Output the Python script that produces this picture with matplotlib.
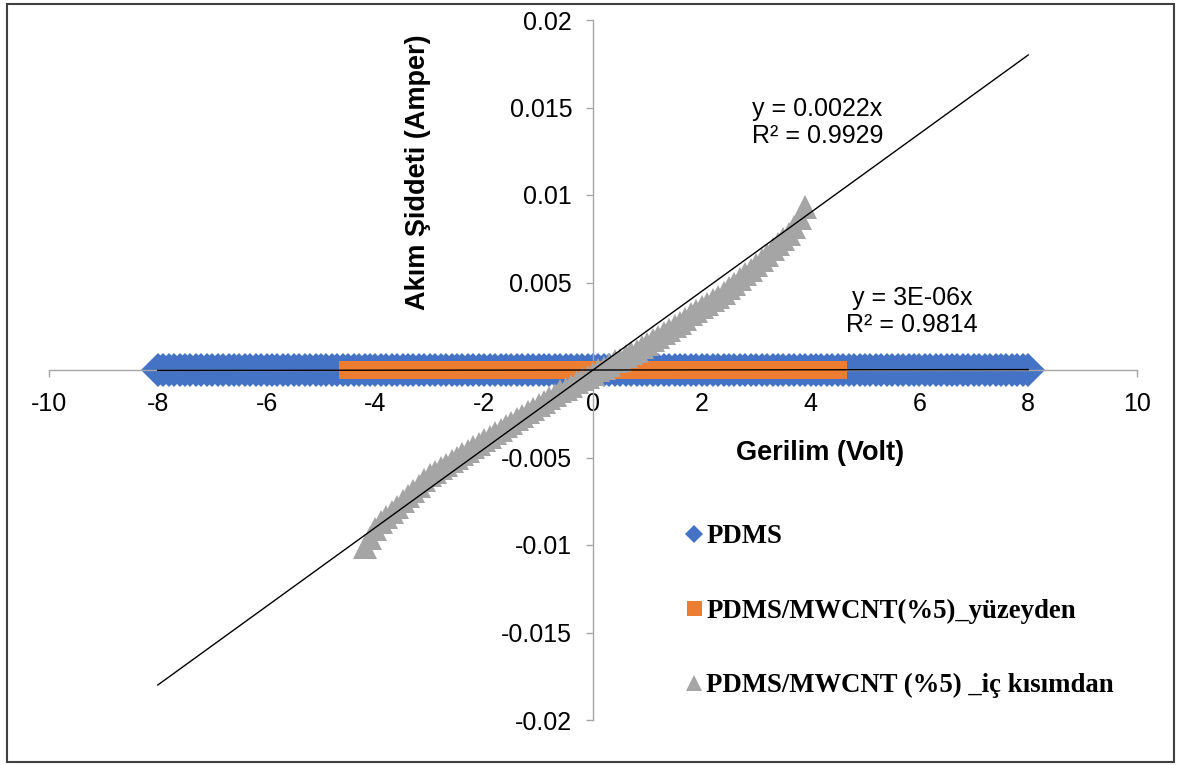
import matplotlib.pyplot as plt
from matplotlib.lines import Line2D
from matplotlib.patches import Rectangle

plt.rcParams['font.family'] = ['Liberation Sans', 'DejaVu Sans']

# --- data (voltage in V, current in A) ---
pdms_v = [
    -8.0, -7.9, -7.8, -7.7, -7.6, -7.5, -7.4, -7.3, -7.2, -7.1,
    -7.0, -6.9, -6.8, -6.7, -6.6, -6.5, -6.4, -6.3, -6.2, -6.1,
    -6.0, -5.9, -5.8, -5.7, -5.6, -5.5, -5.4, -5.3, -5.2, -5.1,
    -5.0, -4.9, -4.8, -4.7, -4.6, -4.5, -4.4, -4.3, -4.2, -4.1,
    -4.0, -3.9, -3.8, -3.7, -3.6, -3.5, -3.4, -3.3, -3.2, -3.1,
    -3.0, -2.9, -2.8, -2.7, -2.6, -2.5, -2.4, -2.3, -2.2, -2.1,
    -2.0, -1.9, -1.8, -1.7, -1.6, -1.5, -1.4, -1.3, -1.2, -1.1,
    -1.0, -0.9, -0.8, -0.7, -0.6, -0.5, -0.4, -0.3, -0.2, -0.1,
    0.0, 0.1, 0.2, 0.3, 0.4, 0.5, 0.6, 0.7, 0.8, 0.9,
    1.0, 1.1, 1.2, 1.3, 1.4, 1.5, 1.6, 1.7, 1.8, 1.9,
    2.0, 2.1, 2.2, 2.3, 2.4, 2.5, 2.6, 2.7, 2.8, 2.9,
    3.0, 3.1, 3.2, 3.3, 3.4, 3.5, 3.6, 3.7, 3.8, 3.9,
    4.0, 4.1, 4.2, 4.3, 4.4, 4.5, 4.6, 4.7, 4.8, 4.9,
    5.0, 5.1, 5.2, 5.3, 5.4, 5.5, 5.6, 5.7, 5.8, 5.9,
    6.0, 6.1, 6.2, 6.3, 6.4, 6.5, 6.6, 6.7, 6.8, 6.9,
    7.0, 7.1, 7.2, 7.3, 7.4, 7.5, 7.6, 7.7, 7.8, 7.9,
    8.0,
]
# PDMS current is too small to read at this scale (fit: 3E-06x)
pdms_i = [
    0.0, 0.0, 0.0, 0.0, 0.0, 0.0, 0.0, 0.0, 0.0, 0.0,
    0.0, 0.0, 0.0, 0.0, 0.0, 0.0, 0.0, 0.0, 0.0, 0.0,
    0.0, 0.0, 0.0, 0.0, 0.0, 0.0, 0.0, 0.0, 0.0, 0.0,
    0.0, 0.0, 0.0, 0.0, 0.0, 0.0, 0.0, 0.0, 0.0, 0.0,
    0.0, 0.0, 0.0, 0.0, 0.0, 0.0, 0.0, 0.0, 0.0, 0.0,
    0.0, 0.0, 0.0, 0.0, 0.0, 0.0, 0.0, 0.0, 0.0, 0.0,
    0.0, 0.0, 0.0, 0.0, 0.0, 0.0, 0.0, 0.0, 0.0, 0.0,
    0.0, 0.0, 0.0, 0.0, 0.0, 0.0, 0.0, 0.0, 0.0, 0.0,
    0.0, 0.0, 0.0, 0.0, 0.0, 0.0, 0.0, 0.0, 0.0, 0.0,
    0.0, 0.0, 0.0, 0.0, 0.0, 0.0, 0.0, 0.0, 0.0, 0.0,
    0.0, 0.0, 0.0, 0.0, 0.0, 0.0, 0.0, 0.0, 0.0, 0.0,
    0.0, 0.0, 0.0, 0.0, 0.0, 0.0, 0.0, 0.0, 0.0, 0.0,
    0.0, 0.0, 0.0, 0.0, 0.0, 0.0, 0.0, 0.0, 0.0, 0.0,
    0.0, 0.0, 0.0, 0.0, 0.0, 0.0, 0.0, 0.0, 0.0, 0.0,
    0.0, 0.0, 0.0, 0.0, 0.0, 0.0, 0.0, 0.0, 0.0, 0.0,
    0.0, 0.0, 0.0, 0.0, 0.0, 0.0, 0.0, 0.0, 0.0, 0.0,
    0.0,
]

surface_v = [
    -4.5, -4.4, -4.3, -4.2, -4.1, -4.0, -3.9, -3.8, -3.7, -3.6,
    -3.5, -3.4, -3.3, -3.2, -3.1, -3.0, -2.9, -2.8, -2.7, -2.6,
    -2.5, -2.4, -2.3, -2.2, -2.1, -2.0, -1.9, -1.8, -1.7, -1.6,
    -1.5, -1.4, -1.3, -1.2, -1.1, -1.0, -0.9, -0.8, -0.7, -0.6,
    -0.5, -0.4, -0.3, -0.2, -0.1, 0.0, 0.1, 0.2, 0.3, 0.4,
    0.5, 0.6, 0.7, 0.8, 0.9, 1.0, 1.1, 1.2, 1.3, 1.4,
    1.5, 1.6, 1.7, 1.8, 1.9, 2.0, 2.1, 2.2, 2.3, 2.4,
    2.5, 2.6, 2.7, 2.8, 2.9, 3.0, 3.1, 3.2, 3.3, 3.4,
    3.5, 3.6, 3.7, 3.8, 3.9, 4.0, 4.1, 4.2, 4.3, 4.4,
    4.5,
]
surface_i = [
    0.0, 0.0, 0.0, 0.0, 0.0, 0.0, 0.0, 0.0, 0.0, 0.0,
    0.0, 0.0, 0.0, 0.0, 0.0, 0.0, 0.0, 0.0, 0.0, 0.0,
    0.0, 0.0, 0.0, 0.0, 0.0, 0.0, 0.0, 0.0, 0.0, 0.0,
    0.0, 0.0, 0.0, 0.0, 0.0, 0.0, 0.0, 0.0, 0.0, 0.0,
    0.0, 0.0, 0.0, 0.0, 0.0, 0.0, 0.0, 0.0, 0.0, 0.0,
    0.0, 0.0, 0.0, 0.0, 0.0, 0.0, 0.0, 0.0, 0.0, 0.0,
    0.0, 0.0, 0.0, 0.0, 0.0, 0.0, 0.0, 0.0, 0.0, 0.0,
    0.0, 0.0, 0.0, 0.0, 0.0, 0.0, 0.0, 0.0, 0.0, 0.0,
    0.0, 0.0, 0.0, 0.0, 0.0, 0.0, 0.0, 0.0, 0.0, 0.0,
    0.0,
]

inner_v = [
    -4.2, -4.1, -4.0, -3.9, -3.8, -3.7, -3.6, -3.5, -3.4, -3.3,
    -3.2, -3.1, -3.0, -2.9, -2.8, -2.7, -2.6, -2.5, -2.4, -2.3,
    -2.2, -2.1, -2.0, -1.9, -1.8, -1.7, -1.6, -1.5, -1.4, -1.3,
    -1.2, -1.1, -1.0, -0.9, -0.8, -0.7, -0.6, -0.5, -0.4, -0.3,
    -0.2, -0.1, 0.0, 0.1, 0.2, 0.3, 0.4, 0.5, 0.6, 0.7,
    0.8, 0.9, 1.0, 1.1, 1.2, 1.3, 1.4, 1.5, 1.6, 1.7,
    1.8, 1.9, 2.0, 2.1, 2.2, 2.3, 2.4, 2.5, 2.6, 2.7,
    2.8, 2.9, 3.0, 3.1, 3.2, 3.3, 3.4, 3.5, 3.6, 3.7,
    3.8, 3.9,
]
inner_i = [
    -0.0101, -0.0096, -0.0091, -0.0087, -0.0084, -0.0081, -0.0078, -0.0075, -0.0072, -0.0069,
    -0.0066, -0.0063, -0.0060, -0.0058, -0.0056, -0.0054, -0.0052, -0.0050, -0.0048, -0.0046,
    -0.0044, -0.0042, -0.0040, -0.0038, -0.0036, -0.0034, -0.0032, -0.0030, -0.0028, -0.0026,
    -0.0024, -0.0022, -0.0020, -0.0018, -0.0016, -0.0014, -0.0012, -0.0011, -0.0009, -0.0007,
    -0.0005, -0.0004, -0.0002, 0.0000, 0.0001, 0.0003, 0.0005, 0.0006, 0.0008, 0.0010,
    0.0011, 0.0013, 0.0015, 0.0017, 0.0019, 0.0021, 0.0023, 0.0025, 0.0027, 0.0029,
    0.0032, 0.0034, 0.0036, 0.0038, 0.0040, 0.0042, 0.0044, 0.0047, 0.0049, 0.0052,
    0.0055, 0.0057, 0.0060, 0.0063, 0.0066, 0.0069, 0.0072, 0.0075, 0.0078, 0.0082,
    0.0087, 0.0093,
]

# trendlines (through origin), drawn over the whole sweep
trend_v = [-8.0, 8.0]
slope_inner = 0.00225
slope_pdms = 3e-06

x_ticks = [-10, -8, -6, -4, -2, 0, 2, 4, 6, 8, 10]
x_tick_labels = ['-10', '-8', '-6', '-4', '-2', '0', '2', '4', '6', '8', '10']
y_ticks = [-0.02, -0.015, -0.01, -0.005, 0, 0.005, 0.01, 0.015, 0.02]
y_tick_labels = ['-0.02', '-0.015', '-0.01', '-0.005', '0', '0.005', '0.01', '0.015', '0.02']

series_names = ['PDMS', 'PDMS/MWCNT(%5)_yüzeyden', 'PDMS/MWCNT (%5) _iç kısımdan']
colors = ['#4472C4', '#ED7D31', '#A5A5A5']

W, H = 1179, 765
fig = plt.figure(figsize=(W / 100, H / 100), dpi=100)
ax = fig.add_axes([49 / W, 1 - 720 / H, 1088 / W, 700 / H])

ax.plot(pdms_v, pdms_i, ls='none', marker='D', ms=17, mew=0, color=colors[0], zorder=2)
ax.plot(surface_v, surface_i, ls='none', marker='s', ms=13.4, mew=0, color=colors[1], zorder=3)
ax.plot(inner_v, inner_i, ls='none', marker='^', ms=17.5, mew=0, color=colors[2], zorder=4)

ax.plot(trend_v, [slope_inner * v for v in trend_v], color='black', lw=1.0, zorder=5)
ax.plot(trend_v, [slope_pdms * v for v in trend_v], color='black', lw=1.0, zorder=5)

ax.set_xlim(-10, 10)
ax.set_ylim(-0.02, 0.02)
ax.set_xticks(x_ticks)
ax.set_xticklabels(x_tick_labels)
ax.set_yticks(y_ticks)
ax.set_yticklabels(y_tick_labels)

ax.spines['left'].set_position(('data', 0))
ax.spines['bottom'].set_position(('data', 0))
ax.spines['top'].set_visible(False)
ax.spines['right'].set_visible(False)
for s in ['left', 'bottom']:
    ax.spines[s].set_color('#A6A6A6')
    ax.spines[s].set_linewidth(1.0)
ax.tick_params(axis='both', direction='out', color='#A6A6A6', length=5, width=1.0,
               labelsize=18, labelcolor='black')
ax.tick_params(axis='x', pad=11)
ax.tick_params(axis='y', pad=10)
ax.patch.set_alpha(0)

# axis titles
ax.text(0.7086, 0.381, 'Gerilim (Volt)', transform=ax.transAxes, ha='center', va='center',
        fontsize=19.5, fontweight='bold')
ax.text(0.339, 0.783, 'Akım Şiddeti (Amper)', transform=ax.transAxes, ha='center', va='center',
        rotation=90, fontsize=19.5, fontweight='bold')

# trendline equations
ax.text(0.646, 0.854, 'y = 0.0022x\nR² = 0.9929', transform=ax.transAxes, ha='left', va='center',
        fontsize=18, linespacing=1.15)
ax.text(0.793, 0.583, 'y = 3E-06x\nR² = 0.9814', transform=ax.transAxes, ha='center', va='center',
        fontsize=18, linespacing=1.15, multialignment='center')

handles = [
    Line2D([], [], ls='none', marker='D', ms=8.7, mew=0, color=colors[0]),
    Line2D([], [], ls='none', marker='s', ms=10.8, mew=0, color=colors[1]),
    Line2D([], [], ls='none', marker='^', ms=12.2, mew=0, color=colors[2]),
]
fig.legend(handles, series_names, loc='upper left', bbox_to_anchor=(686 / W, 1 - 524 / H),
           frameon=False, borderpad=0, borderaxespad=0, handlelength=0.6, handletextpad=0.15,
           labelspacing=1.85, prop={'family': 'Liberation Serif', 'weight': 'bold', 'size': 19.3})

fig.patches.append(Rectangle((7 / W, 1 - 762 / H), 1167 / W, 758 / H, transform=fig.transFigure,
                             fill=False, edgecolor='#404040', lw=1.5))

fig.savefig('out.png', dpi=100)
